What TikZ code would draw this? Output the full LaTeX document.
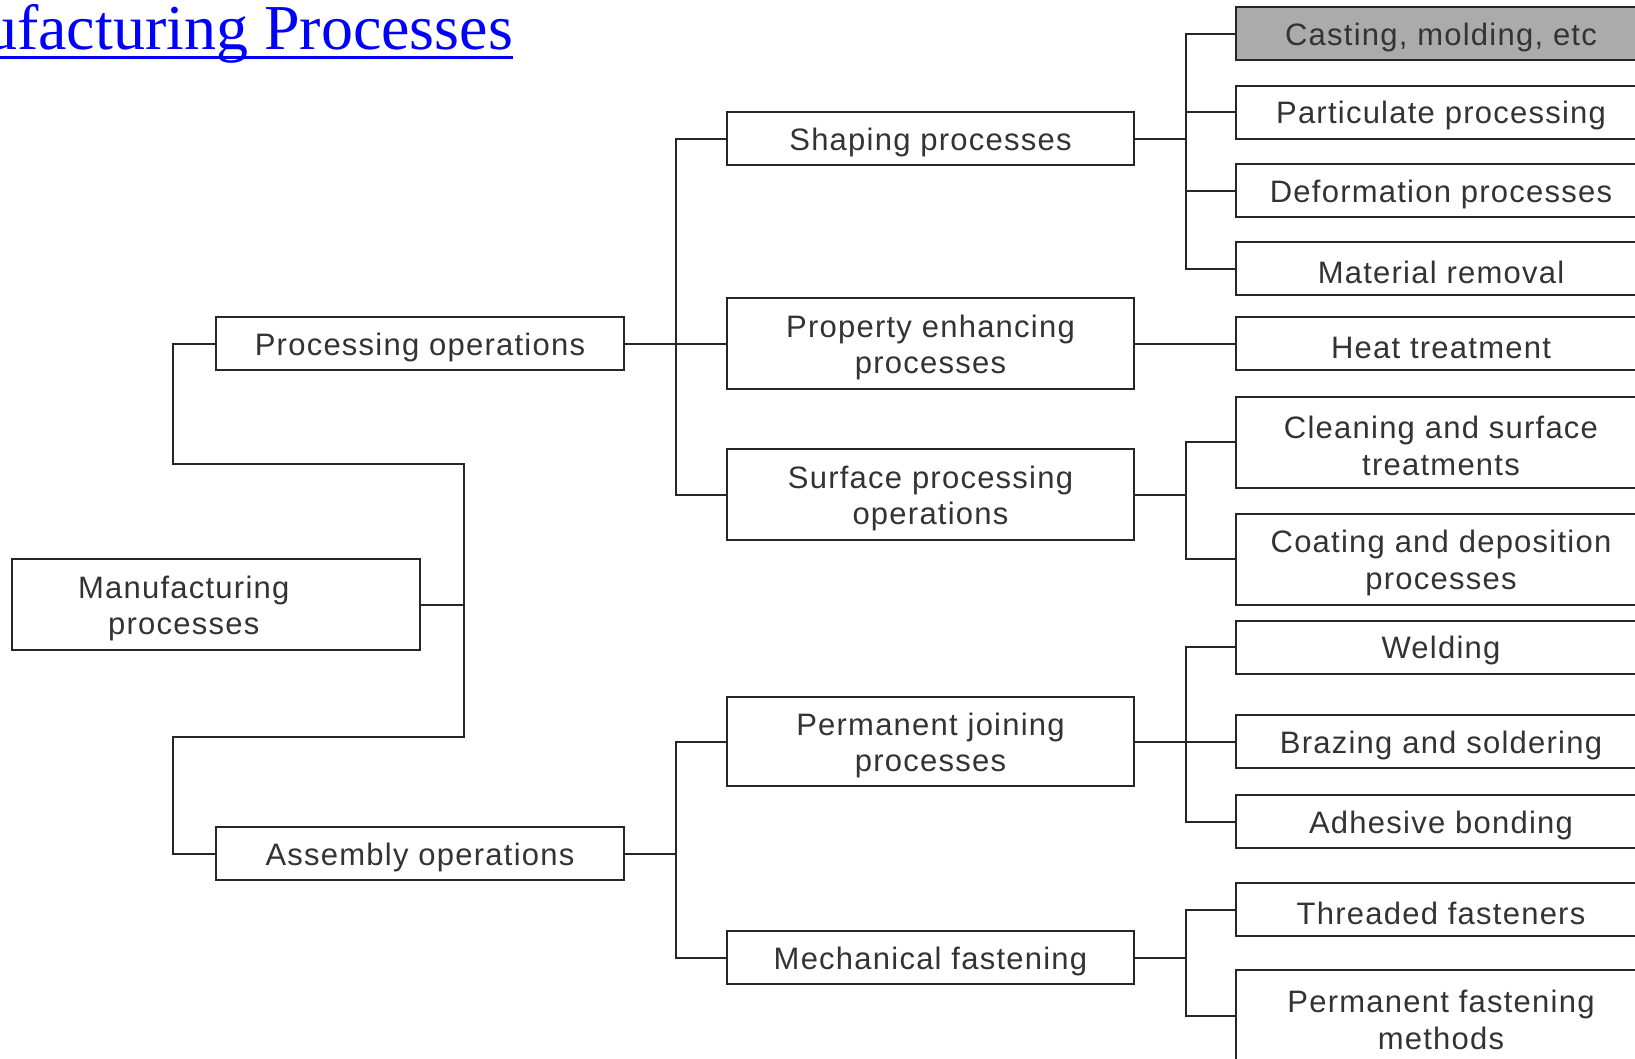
\documentclass[tikz,border=0pt]{standalone}
\usepackage{fontspec}
\newfontfamily\boxfont[LetterSpace=4]{Liberation Sans}
\newfontfamily\titlefont{Liberation Serif}
\definecolor{linec}{HTML}{262626}
\definecolor{textc}{HTML}{333333}
\definecolor{shade}{HTML}{ABABAB}
\definecolor{linkblue}{RGB}{0,0,255}
% tall strut on the first line: sets the text a little lower in its box
\newcommand\topstrut{\rule{0pt}{30pt}}
\tikzset{
  pbox/.style={draw=linec, line width=2pt, fill=white, text=textc,
    font=\boxfont\fontsize{31}{36.5}\selectfont, align=center,
    inner sep=0pt, minimum height=53pt},
  tall/.style={minimum height=91pt},
  c1/.style={minimum width=408pt},
  c2/.style={minimum width=408pt},
  c3/.style={minimum width=407pt},
  c4/.style={minimum width=410pt},
  conn/.style={draw=linec, line width=2pt}
}
\begin{document}
\begin{tikzpicture}[x=1pt, y=-1pt]
\useasboundingbox (0,0) rectangle (1635,1058);
\fill[white] (0,0) rectangle (1635,1058);

% heading
\node[anchor=base west, inner sep=0pt, text=linkblue,
      font=\titlefont\fontsize{64}{70}\selectfont] (title) at (-15,49) {ufacturing Processes};
\draw[linkblue, line width=3pt] ([yshift=-8pt]title.base west) -- ([yshift=-8pt]title.base east);

% level 1 (text set left of the box centre)
\node[pbox, c1, tall] (man) at (215.75,604.5) {\topstrut Manufacturing\rule{64pt}{0pt}\\processes\rule{64pt}{0pt}};

% level 2
\node[pbox, c2] (proc) at (420,343.5) {\topstrut Processing operations};
\node[pbox, c2] (asm)  at (420,853.5) {\topstrut Assembly operations};

% level 3
\node[pbox, c3] (shape) at (930.5,138.5) {\topstrut Shaping processes};
\node[pbox, c3, tall] (prop)  at (930.5,343.5) {\topstrut Property enhancing\\processes};
\node[pbox, c3, tall] (surf)  at (930.5,494.5) {\topstrut Surface processing\\operations};
\node[pbox, c3, minimum height=89pt] (pjoin) at (930.5,741.5) {\topstrut Permanent joining\\processes};
\node[pbox, c3] (mech)  at (930.5,957.5) {\topstrut Mechanical fastening};

% level 4
\node[pbox, c4, fill=shade] (cast) at (1441,33.5) {\topstrut Casting, molding, etc};
\node[pbox, c4] (part)   at (1441,112)   {\topstrut Particulate processing};
\node[pbox, c4] (deform) at (1441,190.5) {\topstrut Deformation processes};
\node[pbox, c4] (matrem) at (1441,268.5) {\topstrut Material removal};
\node[pbox, c4] (heat)   at (1441,343.5) {\topstrut Heat treatment};
\node[pbox, c4, tall] (clean) at (1441,442) {\topstrut Cleaning and surface\\treatments};
\node[pbox, c4, tall] (coat)  at (1441,559) {\topstrut Coating and deposition\\processes};
\node[pbox, c4] (weld)   at (1441,647)   {\topstrut Welding};
\node[pbox, c4] (braze)  at (1441,741.5) {\topstrut Brazing and soldering};
\node[pbox, c4] (adh)    at (1441,821.5) {\topstrut Adhesive bonding};
\node[pbox, c4] (thread) at (1441,909.5) {\topstrut Threaded fasteners};
\node[pbox, c4, minimum height=92pt] (permf) at (1441,1016) {\topstrut Permanent fastening\\methods};

% junction columns
\coordinate (lx) at (173,0);
\coordinate (mt) at (464,464);
\coordinate (mb) at (464,737);
\coordinate (bx) at (676,0);
\coordinate (cx) at (1186,0);

% level 1 -> level 2
\draw[conn] (man.east) -- (man.east -| mt);
\draw[conn] (proc.west) -- (proc.west -| lx) |- (mt) -- (mb) -| (lx |- asm.west) -- (asm.west);

% level 2 -> level 3
\draw[conn] (shape.west) -- (shape.west -| bx) -- (bx |- surf.west) -- (surf.west);
\draw[conn] (proc.east) -- (prop.west);
\draw[conn] (pjoin.west) -- (pjoin.west -| bx) -- (bx |- mech.west) -- (mech.west);
\draw[conn] (asm.east) -- (asm.east -| bx);

% level 3 -> level 4
\draw[conn] (cast.west) -- (cast.west -| cx) -- (cx |- matrem.west) -- (matrem.west);
\draw[conn] (part.west) -- (part.west -| cx);
\draw[conn] (deform.west) -- (deform.west -| cx);
\draw[conn] (shape.east) -- (shape.east -| cx);
\draw[conn] (prop.east) -- (heat.west);
\draw[conn] (clean.west) -- (clean.west -| cx) -- (cx |- coat.west) -- (coat.west);
\draw[conn] (surf.east) -- (surf.east -| cx);
\draw[conn] (weld.west) -- (weld.west -| cx) -- (cx |- adh.west) -- (adh.west);
\draw[conn] (pjoin.east) -- (braze.west);
\draw[conn] (thread.west) -- (thread.west -| cx) -- (cx |- permf.west) -- (permf.west);
\draw[conn] (mech.east) -- (mech.east -| cx);
\end{tikzpicture}
\end{document}
